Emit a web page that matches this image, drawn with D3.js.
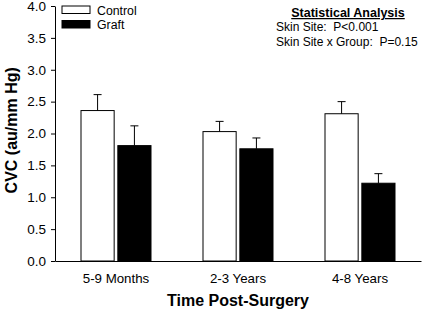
<!DOCTYPE html>
<html>
<head>
<meta charset="utf-8">
<script src="https://cdn.jsdelivr.net/npm/d3@7"></script>
<style>
  body { margin: 0; background: #fff; }
  svg { font-family: "Liberation Sans", Arial, sans-serif; }
</style>
</head>
<body>
<div id="chart"></div>
<script>
// data
let groups = ["5-9 Months", "2-3 Years", "4-8 Years"]
let series = ["Control", "Graft"]
let controlMeans = [2.36, 2.03, 2.31]
let controlSE = [0.25, 0.16, 0.19]
let graftMeans = [1.81, 1.76, 1.22]
let graftSE = [0.31, 0.17, 0.15]
let yTicks = [0, 0.5, 1, 1.5, 2, 2.5, 3, 3.5, 4]

let data = groups.map(function(g, i) {
    return [
        {group: g, key: "Control", mean: controlMeans[i], se: controlSE[i]},
        {group: g, key: "Graft", mean: graftMeans[i], se: graftSE[i]}
    ]
}).flat()

var width = 422, height = 312
var margin = {top: 6, right: 1, bottom: 51, left: 55}

var svg = d3.select("#chart").append("svg")
    .attr("width", width)
    .attr("height", height)

var x = d3.scaleBand()
    .domain(groups)
    .range([margin.left, width - margin.right])

var xSub = d3.scaleBand()
    .domain(series)
    .range([0, 70])
    .paddingInner(0.1)

var y = d3.scaleLinear()
    .domain([0, 4])
    .range([height - margin.bottom, margin.top])

var fill = d3.scaleOrdinal().domain(series).range(["#fff", "#000"])

// bars
svg.selectAll(".bar")
    .data(data)
    .enter()
    .append("rect")
        .attr("x", function(d) { return x(d.group) + x.bandwidth() / 2 - 35 + xSub(d.key) })
        .attr("y", function(d) { return y(d.mean) })
        .attr("width", xSub.bandwidth())
        .attr("height", function(d) { return y(0) - y(d.mean) })
        .attr("fill", function(d) { return fill(d.key) })
        .attr("stroke", "#000")
        .attr("stroke-width", 1)

// error bars (upper only)
var err = svg.selectAll(".err")
    .data(data)
    .enter()
    .append("g")
        .attr("transform", function(d) {
            return "translate(" + (x(d.group) + x.bandwidth() / 2 - 35 + xSub(d.key) + xSub.bandwidth() / 2) + ",0)"
        })
err.append("line")
    .attr("x1", 0).attr("x2", 0)
    .attr("y1", function(d) { return y(d.mean) })
    .attr("y2", function(d) { return y(d.mean + d.se) })
    .attr("stroke", "#000")
err.append("line")
    .attr("x1", -4).attr("x2", 4)
    .attr("y1", function(d) { return y(d.mean + d.se) })
    .attr("y2", function(d) { return y(d.mean + d.se) })
    .attr("stroke", "#000")

// axes
var yAxis = svg.append("g")
    .attr("transform", "translate(" + margin.left + ",0)")
    .call(d3.axisLeft(y).tickValues(yTicks).tickFormat(d3.format(".1f")).tickSize(4).tickSizeOuter(0))
yAxis.selectAll("text").style("font-size", "13.5px").attr("fill", "#000").attr("dx", "-2")
yAxis.selectAll("line, path").attr("stroke", "#000")

var xAxis = svg.append("g")
    .attr("transform", "translate(0," + y(0) + ")")
    .call(d3.axisBottom(x).tickSize(0).tickSizeOuter(0))
xAxis.selectAll("text").style("font-size", "13.3px").attr("fill", "#000").attr("dy", "1.4em")
xAxis.select("path").attr("stroke", "#000")

// axis titles
svg.append("text")
    .attr("transform", "translate(17," + y(2.05) + ") rotate(-90)")
    .attr("text-anchor", "middle")
    .style("font-size", "16px")
    .style("font-weight", "bold")
    .text("CVC (au/mm Hg)")

svg.append("text")
    .attr("x", x(groups[1]) + x.bandwidth() / 2)
    .attr("y", 306)
    .attr("text-anchor", "middle")
    .style("font-size", "16px")
    .style("font-weight", "bold")
    .text("Time Post-Surgery")

// legend
var legend = svg.selectAll(".legend")
    .data(series)
    .enter()
    .append("g")
        .attr("transform", function(d, i) { return "translate(62," + (6 + i * 14.5) + ")" })
legend.append("rect")
    .attr("width", 28)
    .attr("height", 7.5)
    .attr("fill", function(d) { return fill(d) })
    .attr("stroke", "#000")
legend.append("text")
    .attr("x", 35)
    .attr("y", 8.5)
    .style("font-size", "12.3px")
    .text(function(d) { return d })

// statistics note
svg.append("text")
    .attr("x", 348)
    .attr("y", 17)
    .attr("text-anchor", "middle")
    .style("font-size", "12.5px")
    .style("font-weight", "bold")
    .style("text-decoration", "underline")
    .text("Statistical Analysis")
svg.append("text")
    .attr("x", 276)
    .attr("y", 31)
    .style("font-size", "12px")
    .style("white-space", "pre")
    .text("Skin Site:  P<0.001")
svg.append("text")
    .attr("x", 276)
    .attr("y", 46)
    .style("font-size", "12px")
    .style("white-space", "pre")
    .text("Skin Site x Group:  P=0.15")
</script>
</body>
</html>
